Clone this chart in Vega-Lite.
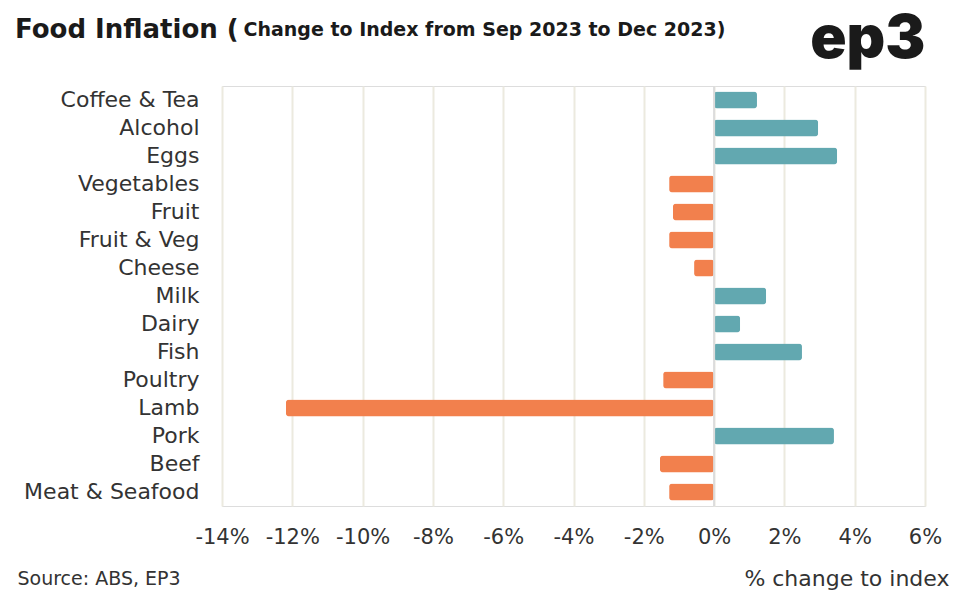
{
  "$schema": "https://vega.github.io/schema/vega-lite/v6.json",
  "width": 703,
  "height": 420,
  "autosize": {"type": "none"},
  "padding": {"left": 222, "top": 86, "right": 35, "bottom": 91},
  "background": "white",
  "title": {
    "text": "Food Inflation (",
    "anchor": "start",
    "frame": "group",
    "dx": -207,
    "offset": 0,
    "dy": 34,
    "fontSize": 26,
    "fontWeight": "bold",
    "font": "DejaVu Sans",
    "color": "#1a1a1a"
  },
  "data": {
    "values": [
      {"category": "Coffee & Tea", "value": 1.22},
      {"category": "Alcohol", "value": 2.96},
      {"category": "Eggs", "value": 3.5},
      {"category": "Vegetables", "value": -1.28},
      {"category": "Fruit", "value": -1.17},
      {"category": "Fruit & Veg", "value": -1.28},
      {"category": "Cheese", "value": -0.57},
      {"category": "Milk\u00a0", "value": 1.48},
      {"category": "Dairy\u00a0", "value": 0.74},
      {"category": "Fish", "value": 2.5},
      {"category": "Poultry", "value": -1.45},
      {"category": "Lamb", "value": -12.18},
      {"category": "Pork", "value": 3.41},
      {"category": "Beef", "value": -1.54},
      {"category": "Meat & Seafood", "value": -1.28}
    ]
  },
  "resolve": {"axis": {"x": "independent", "y": "independent"}},
  "layer": [
    {
      "mark": {"type": "bar", "cornerRadius": 3},
      "encoding": {
        "y": {
          "field": "category",
          "type": "nominal",
          "sort": null,
          "scale": {"paddingInner": 0.39, "paddingOuter": 0.195},
          "axis": {
            "title": "Change to Index from Sep 2023 to Dec 2023)",
            "titleAngle": 0,
            "titleAlign": "left",
            "titleBaseline": "alphabetic",
            "titleX": 21,
            "titleY": -51,
            "titleFontSize": 19,
            "titleFontWeight": "bold",
            "titleFont": "DejaVu Sans",
            "titleColor": "#1a1a1a",
            "labelFontSize": 22,
            "labelFont": "DejaVu Sans",
            "labelColor": "#333333",
            "labelPadding": 23,
            "ticks": false,
            "domain": false
          }
        },
        "x": {
          "field": "value",
          "type": "quantitative",
          "scale": {"domain": [-14, 6], "nice": false, "zero": false},
          "axis": {
            "values": [-14, -12, -10, -8, -6, -4, -2, 0, 2, 4, 6],
            "labelExpr": "datum.value + '%'",
            "labelOverlap": false,
            "labelFlush": false,
            "labelFontSize": 21,
            "labelFont": "DejaVu Sans",
            "labelColor": "#333333",
            "labelPadding": 20,
            "ticks": false,
            "domain": false,
            "grid": true,
            "gridColor": "#eceadf",
            "gridWidth": 2,
            "title": "% change to index",
            "titleX": 727,
            "titleY": 72,
            "titleAlign": "right",
            "titleBaseline": "middle",
            "titleFontSize": 22,
            "titleFontWeight": "normal",
            "titleFont": "DejaVu Sans",
            "titleColor": "#333333"
          }
        },
        "color": {
          "condition": {"test": "datum.value < 0", "value": "#f2804d"},
          "value": "#62a8b0"
        }
      }
    },
    {
      "data": {"values": [{"zero": 0}]},
      "mark": {"type": "rule", "color": "#dcdcdc", "strokeWidth": 2},
      "encoding": {
        "x": {
          "field": "zero",
          "type": "quantitative",
          "axis": {
            "orient": "bottom",
            "labels": false,
            "ticks": false,
            "domain": false,
            "grid": false,
            "title": "Source: ABS, EP3",
            "titleX": -205,
            "titleY": 72,
            "titleAlign": "left",
            "titleBaseline": "middle",
            "titleFontSize": 19,
            "titleFontWeight": "normal",
            "titleFont": "DejaVu Sans",
            "titleColor": "#333333"
          }
        }
      }
    },
    {
      "mark": {"type": "bar", "opacity": 0},
      "encoding": {
        "y": {
          "field": "category",
          "type": "nominal",
          "sort": null,
          "axis": {
            "orient": "right",
            "labels": false,
            "ticks": false,
            "domain": false,
            "grid": false,
            "title": "ep3",
            "titleAngle": 0,
            "titleX": 0,
            "titleY": -29,
            "titleAlign": "right",
            "titleBaseline": "alphabetic",
            "titleFontSize": 60,
            "titleFontWeight": 900,
            "titleFont": "Inter",
            "titleColor": "#1a1a1a"
          }
        },
        "x": {"field": "value", "type": "quantitative", "axis": null}
      }
    }
  ]
}
